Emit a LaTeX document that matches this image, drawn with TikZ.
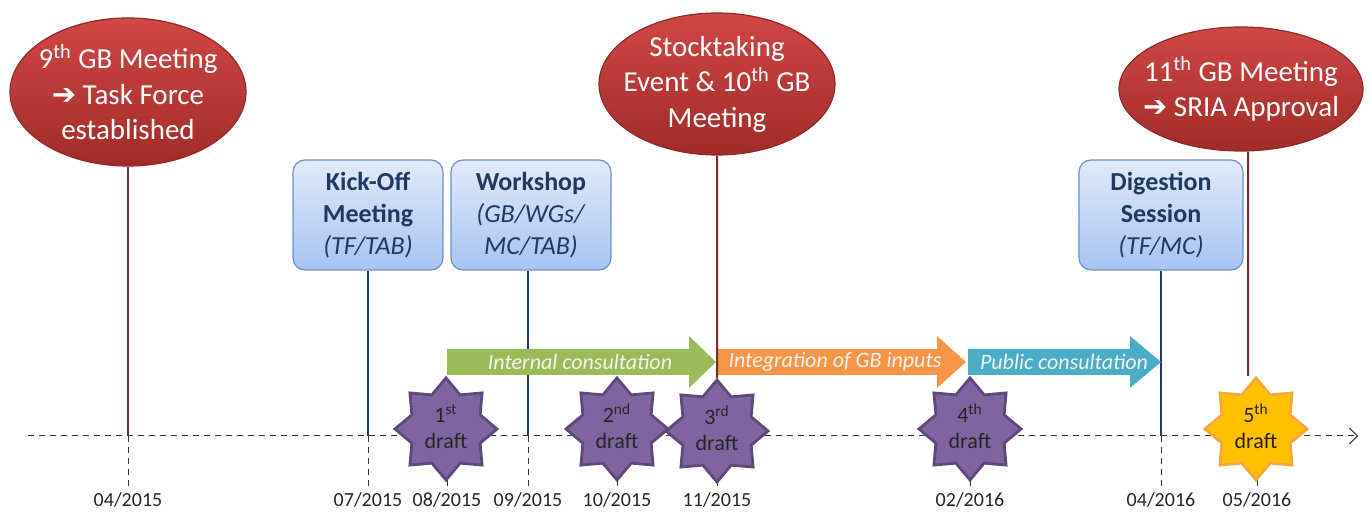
\documentclass[tikz,border=0pt]{standalone}
\usepackage{fontspec}
\setmainfont{Carlito}
\newfontfamily\symfont{DejaVu Sans}
\usetikzlibrary{arrows.meta,shapes.geometric,positioning}
\definecolor{mredtop}{HTML}{CF4745}
\definecolor{mredbot}{HTML}{A12B29}
\definecolor{mredline}{HTML}{8E2B29}
\definecolor{mline}{HTML}{7A2A2A}
\definecolor{nline}{HTML}{1F3A78}
\definecolor{btop}{HTML}{E1EAF9}
\definecolor{bbot}{HTML}{A6C3F2}
\definecolor{bborder}{HTML}{6F8FC4}
\definecolor{bnavy}{HTML}{1F3864}
\definecolor{dpurple}{HTML}{8064A2}
\definecolor{dpurpleline}{HTML}{5F497A}
\definecolor{dgold}{HTML}{FFC000}
\definecolor{dgoldline}{HTML}{F5A93A}
\definecolor{agreen}{HTML}{9BBB59}
\definecolor{aorange}{HTML}{F79646}
\definecolor{ateal}{HTML}{4BACC6}
\tikzset{
  mtgell/.style={ellipse, draw=mredline, line width=0.6pt, top color=mredtop,
                 bottom color=mredbot, text=white, align=center, inner sep=-6pt,
                 font=\fontsize{14.5}{17.75}\selectfont},
  wsbox/.style={rounded corners=6pt, draw=bborder, line width=0.6pt, top color=btop,
                bottom color=bbot, text=bnavy, align=center, minimum height=55pt,
                inner sep=2pt, font=\fontsize{13}{16}\selectfont},
  draftstar/.style={star, star points=8, star point ratio=1.38, minimum size=51pt,
                    inner sep=0pt, draw=dpurpleline, line width=1.4pt, fill=dpurple,
                    text=black!85, align=center, font=\fontsize{11}{13}\selectfont},
  arrtext/.style={text=white!95!black, font=\fontsize{11}{13}\selectfont\itshape, inner sep=0pt},
  datelbl/.style={text=black!85, font=\fontsize{10}{12}\selectfont, inner sep=1pt},
  tickline/.style={black!80, line width=0.5pt, dash pattern=on 3pt off 2.5pt},
  axisline/.style={black!80, line width=0.5pt, dash pattern=on 3pt off 2.5pt,
                   -{Straight Barb[length=4pt,width=8pt]}},
  redline/.style={mline, line width=1pt},
  blueline/.style={nline, line width=1pt},
}
\newcommand{\rarr}{{\symfont\bfseries ➔}}
\newcommand{\drafttxt}[2]{#1\textsuperscript{#2}\\draft\rule[-2.5pt]{0pt}{0pt}}

\begin{document}
\begin{tikzpicture}[x=0.5pt,y=-0.5pt]
  \useasboundingbox (0,0) rectangle (1370,512);

  % time axis
  \coordinate (axs) at (28,436);
  \coordinate (axe) at (1358,436);
  \draw[axisline] (axs) -- (axe);

  % dates and ticks
  \foreach \x/\m/\y in {128/04/2015, 368/07/2015, 447/08/2015, 528/09/2015,
                        617/10/2015, 717/11/2015, 970/02/2016, 1161/04/2016,
                        1257/05/2016}{
    \coordinate (t\m\y) at (\x,436);
    \node[datelbl] (l\m\y) at (\x,500) {\m/\y};
    \draw[tickline] (t\m\y) -- (l\m\y.north);
  }

  % meetings
  \node[mtgell, minimum width=118pt, minimum height=74pt] (gb9) at (128,92)
    {9\textsuperscript{th} GB Meeting\\\rarr\ Task Force\\established};
  \node[mtgell, minimum width=118pt, minimum height=71pt] (stock) at (717,84)
    {Stocktaking\\Event \& 10\textsuperscript{th} GB\\Meeting};
  \node[mtgell, minimum width=122pt, minimum height=62pt] (gb11) at (1241,89)
    {11\textsuperscript{th} GB Meeting\\\rarr\ SRIA Approval};

  % working sessions
  \node[wsbox, minimum width=75pt] (kick) at (368,215)
    {\textbf{Kick-Off}\\\textbf{Meeting}\\\textit{(TF/TAB)}};
  \node[wsbox, minimum width=80pt] (ws) at (531,215)
    {\textbf{Workshop}\\\textit{(GB/WGs/}\\\textit{MC/TAB)}};
  \node[wsbox, minimum width=82pt] (dig) at (1161,215)
    {\textbf{Digestion}\\\textbf{Session}\\\textit{(TF/MC)}};

  % links to the axis
  \draw[redline] (gb9.south) -- (t042015);
  \draw[blueline] (kick.south) -- (t072015);
  \draw[blueline] (t092015 |- ws.south) -- (t092015);
  \draw[blueline] (dig.south) -- (t042016);

  % consultation phases
  \fill[agreen] (447,349) -- (689,349) -- (689,336) -- (716,362) -- (689,388)
    -- (689,375) -- (447,375) -- cycle;
  \node[arrtext] (intc) at (580,362) {Internal consultation};
  \fill[aorange] (718,349) -- (937,349) -- (937,336) -- (966,362) -- (937,388)
    -- (937,375) -- (718,375) -- cycle;
  \node[arrtext] (integ) at (835,362) {Integration of GB inputs};
  \fill[ateal] (968,349) -- (1130,349) -- (1130,336) -- (1161,362) -- (1130,388)
    -- (1130,375) -- (968,375) -- cycle;
  \node[arrtext] (pubc) at (1064,362) {Public consultation};

  % drafts
  \node[draftstar] (d1) at (446,429) {\drafttxt{1}{st}};
  \node[draftstar] (d2) at (617,429) {\drafttxt{2}{nd}};
  \node[draftstar] (d3) at (717,431) {\drafttxt{3}{rd}};
  \node[draftstar] (d4) at (970,429) {\drafttxt{4}{th}};
  \node[draftstar, fill=dgold, draw=dgoldline] (d5) at (1256,429) {\drafttxt{5}{th}};

  \draw[redline] (stock.south) -- (d3.north);
  \draw[redline] ([xshift=3.5pt]gb11.south) -- ([xshift=-4pt]d5.north);

\end{tikzpicture}
\end{document}
